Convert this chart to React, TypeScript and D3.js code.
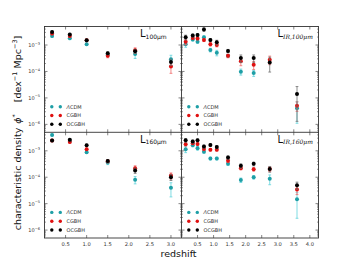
import React from "react";
import * as d3 from "d3";

// redshift bins
const zLeft = [0.18, 0.6, 1.0, 1.5, 2.15, 3.0];
const zRight = [0.13, 0.35, 0.5, 0.7, 0.9, 1.1, 1.45, 1.85, 2.25, 2.75, 3.6];

// L_100um
const l100LCDM = [2.2e-3, 1.8e-3, 1.07e-3, 4.3e-4, 4.6e-4, 2.9e-4];
const l100LCDMErr = [2.5e-4, 2e-4, 1e-4, 6e-5, 1.5e-4, 1.2e-4];
const l100CGBH = [2.75e-3, 2.2e-3, 1.5e-3, 3.9e-4, 6.3e-4, 1.55e-4];
const l100CGBHErr = [3e-4, 2.5e-4, 1.5e-4, 6e-5, 1.5e-4, 7e-5];
const l100OCGBH = [3.1e-3, 2.5e-3, 1.5e-3, 4.9e-4, 5.8e-4, 2.3e-4];
const l100OCGBHErr = [3e-4, 2.5e-4, 1.5e-4, 6e-5, 1e-4, 6e-5];

// L_IR,100um
const lir100LCDM = [1.07e-3, 1.62e-3, 1.32e-3, 1.95e-3, 6.5e-4, 5.1e-4, 3.9e-4, 9.8e-5, 8.7e-5, null, 4.1e-6];
const lir100LCDMErr = [2.5e-4, 2e-4, 1.5e-4, 2.5e-4, 1e-4, 1.2e-4, 5e-5, 2.5e-5, 2.2e-5, null, 3e-6];
const lir100CGBH = [1.32e-3, 1.86e-3, 1.78e-3, 1.55e-3, 1.07e-3, 1.0e-3, 3.9e-4, 2.45e-4, 1.78e-4, 2.8e-4, 5.1e-6];
const lir100CGBHErr = [3e-4, 2e-4, 2e-4, 2e-4, 1.5e-4, 1.5e-4, 6e-5, 8e-5, 6e-5, 1e-4, 2e-6];
const lir100OCGBH = [1.95e-3, 2.3e-3, 2.4e-3, 3.9e-3, 1.55e-3, 1.26e-3, 6.0e-4, 3.2e-4, 3.2e-4, 2.2e-4, 1.41e-5];
const lir100OCGBHErr = [4e-4, 3e-4, 3e-4, 6e-4, 2e-4, 2.5e-4, 8e-5, 1e-4, 1e-4, 1.25e-4, 1.28e-5];

// L_160um
const l160LCDM = [4.0e-3, 2.35e-3, 8.9e-4, 3.6e-4, 8.1e-5, 4.0e-5];
const l160LCDMErr = [3e-4, 2e-4, 1e-4, 6e-5, 2.5e-5, 2.2e-5];
const l160CGBH = [2.45e-3, 2.15e-3, 1.15e-3, 4.0e-4, 2.2e-4, 1.15e-4];
const l160CGBHErr = [2.5e-4, 2e-4, 1.2e-4, 5e-5, 5e-5, 3e-5];
const l160OCGBH = [2.45e-3, 2.6e-3, 1.62e-3, 4.1e-4, 1.8e-4, 1.0e-4];
const l160OCGBHErr = [2.5e-4, 2.5e-4, 1.5e-4, 5e-5, 4e-5, 2.5e-5];

// L_IR,160um
const lir160LCDM = [1.15e-3, 1.62e-3, 1.26e-3, 9.3e-4, 5.1e-4, 5.1e-4, 3.2e-4, 7.8e-5, 1.0e-4, 8.7e-5, 1.48e-5];
const lir160LCDMErr = [3e-4, 2e-4, 2e-4, 1.2e-4, 6e-5, 6e-5, 4e-5, 1.5e-5, 1.5e-5, 3.5e-5, 1.2e-5];
const lir160CGBH = [1.78e-3, 1.95e-3, 1.82e-3, 1.17e-3, 1.1e-3, 1.1e-3, 4.2e-4, 2.2e-4, 2.0e-4, 2.05e-4, 3.4e-5];
const lir160CGBHErr = [2.5e-4, 2e-4, 2e-4, 1.5e-4, 1.2e-4, 1.2e-4, 6e-5, 3e-5, 3e-5, 4e-5, 1.2e-5];
const lir160OCGBH = [2.5e-3, 2.25e-3, 2.5e-3, 1.45e-3, 1.66e-3, 1.38e-3, 5.6e-4, 2.7e-4, 3.2e-4, 2.05e-4, 5.0e-5];
const lir160OCGBHErr = [4e-4, 3e-4, 3e-4, 2e-4, 2e-4, 1.8e-4, 8e-5, 5e-5, 5e-5, 5e-5, 1.5e-5];

const seriesNames = ["ΛCDM", "CGBH", "OCGBH"];
const seriesColors = ["#1e9fa6", "#e01010", "#000000"];
const errColors = ["#5fd3dc", "#f06a6a", "#707070"];
const xTicksLeft = [0.5, 1.0, 1.5, 2.0, 2.5, 3.0];
const xTicksRight = [0.5, 1.0, 1.5, 2.0, 2.5, 3.0, 3.5, 4.0];
const yTickExps = [-3, -4, -5, -6];

const FONT = "DejaVu Sans, sans-serif";
const X0 = 44.5, XM = 181.5, X1 = 318.5;
const Y0 = 26.5, YM = 132.3, Y1 = 238;

type Panel = {
  x0: number; x1: number; y0: number; y1: number;
  xmax: number; z: number[]; vals: (number | null)[][]; errs: (number | null)[][];
  xticks: number[]; leftLabels: boolean; bottomLabels: boolean;
  label: string; sub: string; italicSub: boolean;
};

const panels: Panel[] = [
  { x0: X0, x1: XM, y0: Y0, y1: YM, xmax: 3.25, z: zLeft,
    vals: [l100LCDM, l100CGBH, l100OCGBH], errs: [l100LCDMErr, l100CGBHErr, l100OCGBHErr],
    xticks: xTicksLeft, leftLabels: true, bottomLabels: false, label: "L", sub: "100μm", italicSub: false },
  { x0: XM, x1: X1, y0: Y0, y1: YM, xmax: 4.27, z: zRight,
    vals: [lir100LCDM, lir100CGBH, lir100OCGBH], errs: [lir100LCDMErr, lir100CGBHErr, lir100OCGBHErr],
    xticks: xTicksRight, leftLabels: false, bottomLabels: false, label: "L", sub: "IR,100μm", italicSub: true },
  { x0: X0, x1: XM, y0: YM, y1: Y1, xmax: 3.25, z: zLeft,
    vals: [l160LCDM, l160CGBH, l160OCGBH], errs: [l160LCDMErr, l160CGBHErr, l160OCGBHErr],
    xticks: xTicksLeft, leftLabels: true, bottomLabels: true, label: "L", sub: "160μm", italicSub: false },
  { x0: XM, x1: X1, y0: YM, y1: Y1, xmax: 4.27, z: zRight,
    vals: [lir160LCDM, lir160CGBH, lir160OCGBH], errs: [lir160LCDMErr, lir160CGBHErr, lir160OCGBHErr],
    xticks: xTicksRight, leftLabels: false, bottomLabels: true, label: "L", sub: "IR,160μm", italicSub: true },
];

function PanelView({ p }: { p: Panel }) {
  const x = d3.scaleLinear().domain([0, p.xmax]).range([p.x0, p.x1]);
  const y = d3.scaleLog().domain([Math.pow(10, -6.3), Math.pow(10, -2.3)]).range([p.y1, p.y0]);
  const minor: number[] = [];
  for (let e = -7; e <= -2; e++) for (let m = 2; m <= 9; m++) {
    const v = m * Math.pow(10, e);
    if (y(v) <= p.y1 && y(v) >= p.y0) minor.push(v);
  }
  const tickCol = "#333";
  return (
    <g>
      {/* ticks */}
      {yTickExps.map((e) => {
        const yy = y(Math.pow(10, e));
        return (
          <g key={"yt" + e}>
            <line x1={p.x0} x2={p.x0 + 3} y1={yy} y2={yy} stroke={tickCol} strokeWidth={0.6} />
            <line x1={p.x1} x2={p.x1 - 3} y1={yy} y2={yy} stroke={tickCol} strokeWidth={0.6} />
            {p.leftLabels && (
              <text x={40} y={yy + 2} textAnchor="end" fontSize={5} fill="#333" fontFamily={FONT}>
                10<tspan dy={-2.5} fontSize={3.6}>{"−" + Math.abs(e)}</tspan>
              </text>
            )}
          </g>
        );
      })}
      {minor.map((v, i) => (
        <g key={"mt" + i}>
          <line x1={p.x0} x2={p.x0 + 1.5} y1={y(v)} y2={y(v)} stroke={tickCol} strokeWidth={0.5} />
          <line x1={p.x1} x2={p.x1 - 1.5} y1={y(v)} y2={y(v)} stroke={tickCol} strokeWidth={0.5} />
        </g>
      ))}
      {p.xticks.map((t) => (
        <g key={"xt" + t}>
          <line x1={x(t)} x2={x(t)} y1={p.y1} y2={p.y1 - 3} stroke={tickCol} strokeWidth={0.6} />
          <line x1={x(t)} x2={x(t)} y1={p.y0} y2={p.y0 + 3} stroke={tickCol} strokeWidth={0.6} />
          {p.bottomLabels && (
            <text x={x(t)} y={p.y1 + 7.5} textAnchor="middle" fontSize={5.2} fill="#333" fontFamily={FONT}>
              {t.toFixed(1)}
            </text>
          )}
        </g>
      ))}
      {/* data */}
      {p.vals.map((vals, si) => (
        <g key={"s" + si}>
          {vals.map((v, i) => {
            if (v == null) return null;
            const err = p.errs[si][i] ?? 0;
            const cx = x(p.z[i]);
            const lo = Math.max(v - err, 1e-7);
            const hi = v + err;
            return (
              <g key={i}>
                <line x1={cx} x2={cx} y1={y(lo)} y2={y(hi)} stroke={errColors[si]} strokeWidth={0.8} />
                <line x1={cx - 1.4} x2={cx + 1.4} y1={y(lo)} y2={y(lo)} stroke={errColors[si]} strokeWidth={0.8} />
                <line x1={cx - 1.4} x2={cx + 1.4} y1={y(hi)} y2={y(hi)} stroke={errColors[si]} strokeWidth={0.8} />
              </g>
            );
          })}
          {vals.map((v, i) =>
            v == null ? null : (
              <circle key={"c" + i} cx={x(p.z[i])} cy={y(v)} r={2} fill={seriesColors[si]} />
            )
          )}
        </g>
      ))}
      {/* legend */}
      {seriesNames.map((n, si) => {
        const ly = p.y1 - 25.6 + si * 8.8;
        return (
          <g key={"lg" + si}>
            <circle cx={p.x0 + 7.3} cy={ly} r={1.7} fill={seriesColors[si]} />
            <circle cx={p.x0 + 15.8} cy={ly} r={1.7} fill={seriesColors[si]} />
            <text x={p.x0 + 22} y={ly + 1.8} fontSize={5} fill="#333" fontFamily={FONT}>
              {si === 0 ? (
                <>
                  <tspan fontStyle="italic">Λ</tspan>CDM
                </>
              ) : (
                n
              )}
            </text>
          </g>
        );
      })}
      {/* panel label */}
      <text x={p.italicSub ? p.x1 - 41 : p.x1 - 41.5} y={p.y0 + 10.3} fontSize={10} fill="#111" fontFamily={FONT}>
        {p.label}
        <tspan dy={1.8} fontSize={6} fontStyle={p.italicSub ? "italic" : "normal"}
          fontFamily={p.italicSub ? "DejaVu Serif, serif" : FONT}>{p.sub}</tspan>
      </text>
    </g>
  );
}

export default function App() {
  return (
    <svg width={354} height={265} style={{ position: "absolute", left: 0, top: 0, background: "#fff" }}>
      <rect x={0} y={0} width={354} height={265} fill="#fff" />
      {panels.map((p, i) => (
        <PanelView key={i} p={p} />
      ))}
      {/* frames */}
      <rect x={X0} y={Y0} width={X1 - X0} height={Y1 - Y0} fill="none" stroke="#333" strokeWidth={0.9} />
      <line x1={XM} x2={XM} y1={Y0} y2={Y1} stroke="#333" strokeWidth={0.9} />
      <line x1={X0} x2={X1} y1={YM} y2={YM} stroke="#333" strokeWidth={0.9} />
      {/* axis labels */}
      <text x={178.5} y={256.5} textAnchor="middle" fontSize={9.5} fill="#111" fontFamily={FONT}>redshift</text>
      <g transform="translate(20.5,133) rotate(-90)">
        <text x={0} y={0} textAnchor="middle" fontSize={9.5} fill="#111" fontFamily={FONT}>
          characteristic density
          <tspan dx={4} fontStyle="italic">ϕ</tspan>
          <tspan dy={-3.5} fontSize={6.5}>*</tspan>
          <tspan dy={3.5} dx={12}>[dex</tspan>
          <tspan dy={-3.5} fontSize={6.5}>−1</tspan>
          <tspan dy={3.5}> Mpc</tspan>
          <tspan dy={-3.5} fontSize={6.5}>−3</tspan>
          <tspan dy={3.5}>]</tspan>
        </text>
      </g>
    </svg>
  );
}
